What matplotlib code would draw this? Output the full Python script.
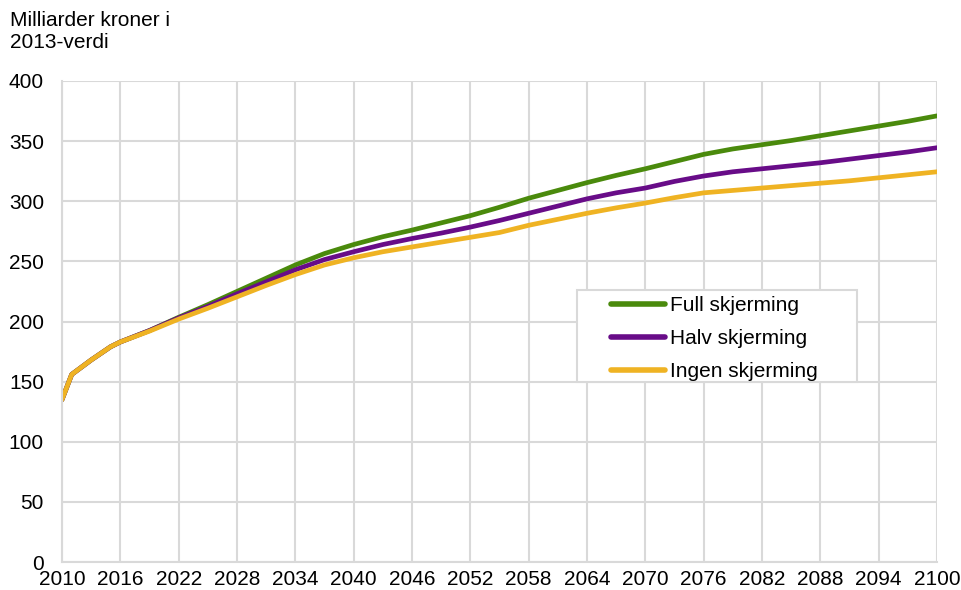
import matplotlib
matplotlib.use('Agg')
import matplotlib.pyplot as plt
from matplotlib.patches import Rectangle

plt.rcParams['font.family'] = ['Liberation Sans', 'DejaVu Sans']

years = [2010, 2011, 2013, 2015, 2016, 2019, 2022, 2025, 2028, 2031, 2034, 2037,
         2040, 2043, 2046, 2049, 2052, 2055, 2058, 2061, 2064, 2067, 2070, 2073,
         2076, 2079, 2082, 2085, 2088, 2091, 2094, 2097, 2100]

full = [135, 156, 168, 179, 183, 192.5, 203.5, 214, 225, 236, 247, 256.5,
        264, 270.5, 276, 282, 288, 295, 302.5, 309, 315.5, 321.5, 327, 333,
        339, 343.5, 347, 350.5, 354.5, 358.5, 362.5, 366.5, 371]

halv = [135, 156, 168, 179, 183, 192.5, 203, 212.5, 223, 233, 243, 251.5,
        258, 264, 269, 273.5, 278.5, 284, 290, 296, 302, 307, 311, 316.5,
        321, 324.5, 327, 329.5, 332, 335, 338, 341, 344.5]

ingen = [135, 156, 168, 179, 183, 192, 202, 211, 220.5, 230, 239, 247,
         253, 258, 262, 266, 270, 274, 280, 285, 290, 294.5, 298.5, 303,
         307, 309, 311, 313, 315, 317, 319.5, 322, 324.5]

labels = ['Full skjerming', 'Halv skjerming', 'Ingen skjerming']
colors = ['#4A8A0C', '#680C88', '#EFB323']

W, H = 962, 590
fig = plt.figure(figsize=(W / 100, H / 100), dpi=100)
ax = fig.add_axes([62 / W, 1 - 562 / H, 875 / W, 481 / H])

for vals, lab, col in zip([full, halv, ingen], labels, colors):
    ax.plot(years, vals, color=col, lw=3.4, label=lab, solid_capstyle='round')

ax.set_xlim(2010, 2100)
ax.set_ylim(0, 400)
ax.set_xticks(range(2010, 2101, 6))
ax.set_yticks(range(0, 401, 50))
ax.grid(True, color='#D9D9D9', lw=1.5)
ax.set_axisbelow(True)
for side, s in ax.spines.items():
    s.set_visible(side in ('left', 'bottom'))
    s.set_color('#D9D9D9')
    s.set_linewidth(1.5)
ax.tick_params(length=0, labelsize=15, colors='black')
ax.tick_params(axis='y', pad=13)
ax.tick_params(axis='x', pad=6)

# legend box drawn by hand (wide padding as in the original)
def px_x(p):
    return (p - 62) / 875

def px_y(p):
    return (562 - p) / 481

ax.add_patch(Rectangle((px_x(577), px_y(382)), px_x(857) - px_x(577), px_y(290) - px_y(382),
                       transform=ax.transAxes, facecolor='white', edgecolor='#D9D9D9',
                       lw=1.5, zorder=4))
leg = ax.legend(loc='upper left', bbox_to_anchor=(px_x(611), px_y(296)),
                fontsize=15, frameon=False, handlelength=2.6, handletextpad=0.25,
                labelspacing=0.68, borderpad=0, borderaxespad=0)
leg.set_zorder(5)
for line in leg.get_lines():
    line.set_linewidth(4)

fig.text(10 / W, 1 - 11 / H, 'Milliarder kroner i\n2013-verdi', fontsize=15,
         va='top', ha='left', linespacing=1.2)

fig.savefig('out.png', dpi=100)
